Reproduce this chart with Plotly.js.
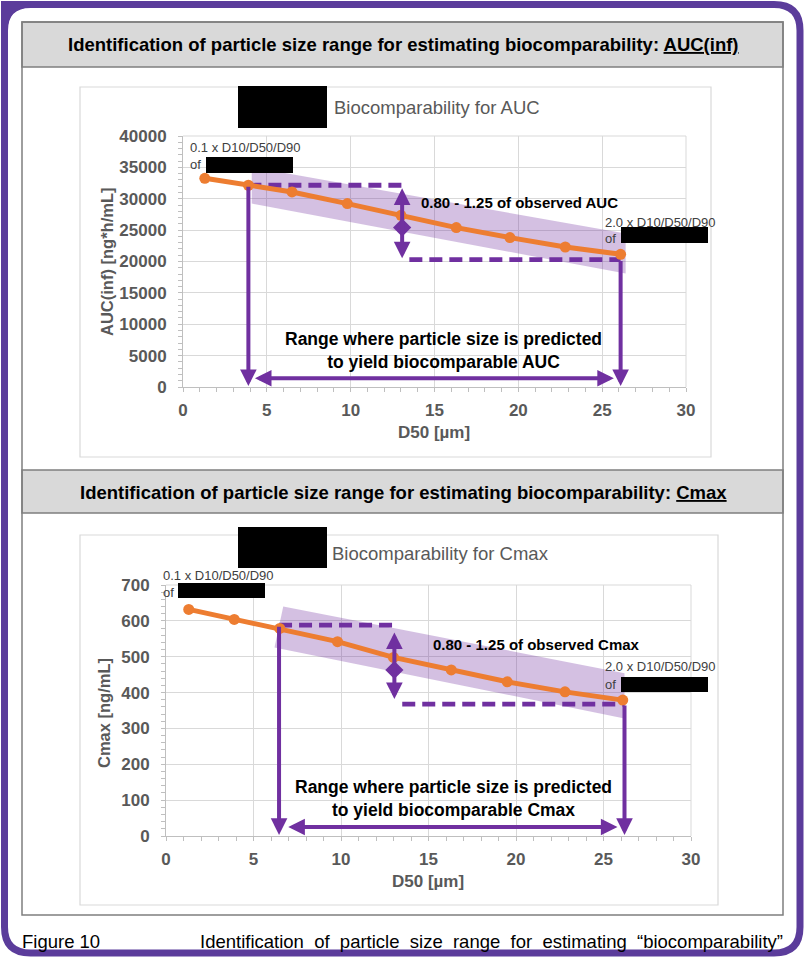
<!DOCTYPE html>
<html><head><meta charset="utf-8">
<script src="https://cdn.plot.ly/plotly-3.0.1.min.js"></script>
<style>html,body{margin:0;padding:0;background:#fff;}#chart{width:805px;height:958px;}</style>
</head><body><div id="chart"></div>
<script>
// ---------- data ----------
const d50 = [1.3, 3.9, 6.5, 9.8, 13.0, 16.3, 19.5, 22.8, 26.1];
const aucValues = [33260, 32150, 31080, 29230, 27360, 25400, 23810, 22310, 21150];
const cmaxValues = [632, 604, 579, 542, 498, 463, 430, 402, 379];

const aucBandX = [4.1, 26.4, 26.4, 4.1];
const aucBandY = [35060, 24450, 18070, 29230];
const cmaxBandX = [6.7, 26.2, 26.2, 6.2];
const cmaxBandY = [640, 454, 328, 526];

const aucLimits = [32150, 20300];      // 1.25 and 0.80 of observed AUC
const cmaxLimits = [588, 368];         // 1.25 and 0.80 of observed Cmax
const aucObserved = 25400;
const cmaxObserved = 463;
const aucRange = [3.9, 26.1];          // predicted biocomparable D50 range
const cmaxRange = [6.46, 26.2];
const ratioArrowX = [13.07, 13.05];
const aucRatioTips = [31900, 20500];
const cmaxRatioTips = [572, 382];
const aucRangeArrowY = 1400;
const cmaxRangeArrowY = 25;
const aucRangeArrow = [4.2, 25.7];
const cmaxRangeArrow = [6.9, 25.8];
const lowerDashStart = [13.5, 13.5];

const d50Ticks = [0, 5, 10, 15, 20, 25, 30];
const aucTicks = [0, 5000, 10000, 15000, 20000, 25000, 30000, 35000, 40000];
const cmaxTicks = [0, 100, 200, 300, 400, 500, 600, 700];

// ---------- styling ----------
const W = 805, H = 958;
const px = x => x / W, py = y => 1 - y / H;
const FONT = 'Liberation Sans, Arial, sans-serif';
const ORANGE = '#ed7d31', PURPLE = '#7030a0', GRID = '#d9d9d9', AX = '#bfbfbf', TXT = '#595959';

function axisX(domain, anchor) {
  return {
    domain: domain, anchor: anchor, range: [d50Ticks[0], d50Ticks[d50Ticks.length - 1]],
    tickmode: 'array', tickvals: d50Ticks, ticktext: d50Ticks.map(String),
    showgrid: true, gridcolor: GRID, gridwidth: 1, zeroline: false,
    showline: true, linecolor: AX, linewidth: 1,
    ticks: 'outside', ticklen: 4, tickcolor: AX, tickwidth: 1,
    minor: {tickmode: 'linear', tick0: 0, dtick: 1, ticks: 'outside', ticklen: 4, tickcolor: AX, showgrid: false},
    tickfont: {family: FONT, size: 17, color: TXT, weight: 'bold'},
    ticklabelstandoff: 4, fixedrange: true
  };
}
function axisY(domain, anchor, ticks, minorStep) {
  return {
    domain: domain, anchor: anchor, range: [ticks[0], ticks[ticks.length - 1]],
    tickmode: 'array', tickvals: ticks, ticktext: ticks.map(String),
    showgrid: true, gridcolor: GRID, gridwidth: 1, zeroline: false,
    showline: true, linecolor: AX, linewidth: 1,
    ticks: 'outside', ticklen: 4, tickcolor: AX, tickwidth: 1,
    minor: {tickmode: 'linear', tick0: 0, dtick: minorStep, ticks: 'outside', ticklen: 4, tickcolor: AX, showgrid: false},
    tickfont: {family: FONT, size: 17, color: TXT, weight: 'bold'},
    ticklabelstandoff: 8, fixedrange: true
  };
}

function panelTraces(xa, ya, vals, bandX, bandY, limits, range, arrowX, obs, dashStart) {
  return [
    {x: bandX, y: bandY, xaxis: xa, yaxis: ya, type: 'scatter', mode: 'lines', fill: 'toself',
     fillcolor: 'rgba(112,48,160,0.30)', line: {width: 0}, hoverinfo: 'skip', showlegend: false},
    {x: [range[0], arrowX], y: [limits[0], limits[0]], xaxis: xa, yaxis: ya, type: 'scatter', mode: 'lines',
     line: {color: PURPLE, width: 4.8, dash: '13px,7px'}, hoverinfo: 'skip', showlegend: false},
    {x: [dashStart, range[1]], y: [limits[1], limits[1]], xaxis: xa, yaxis: ya, type: 'scatter', mode: 'lines',
     line: {color: PURPLE, width: 4.8, dash: '13px,7px'}, hoverinfo: 'skip', showlegend: false},
    {x: d50, y: vals, xaxis: xa, yaxis: ya, type: 'scatter', mode: 'lines+markers',
     line: {color: ORANGE, width: 5}, marker: {color: ORANGE, size: 11}, showlegend: false},
    {x: [arrowX], y: [obs], xaxis: xa, yaxis: ya, type: 'scatter', mode: 'markers',
     marker: {symbol: 'diamond', size: 14, color: PURPLE}, hoverinfo: 'skip', showlegend: false}
  ];
}

const traces = [].concat(
  panelTraces('x', 'y', aucValues, aucBandX, aucBandY, aucLimits, aucRange, ratioArrowX[0], aucObserved, lowerDashStart[0]),
  panelTraces('x2', 'y2', cmaxValues, cmaxBandX, cmaxBandY, cmaxLimits, cmaxRange, ratioArrowX[1], cmaxObserved, lowerDashStart[1])
);

function arrow(xr, yr, x, y, ax, ay, both) {
  return {xref: xr, yref: yr, axref: xr, ayref: yr, x: x, y: y, ax: ax, ay: ay, text: '',
    showarrow: true, arrowhead: 2, arrowsize: 0.83, arrowwidth: 4, arrowcolor: PURPLE,
    startarrowhead: 2, startarrowsize: 0.83, arrowside: both ? 'end+start' : 'end', standoff: 0, startstandoff: 0};
}
function panelArrows(xr, yr, range, limits, arrowX, tips, hy, hspan, tipY) {
  return [
    arrow(xr, yr, range[0], tipY, range[0], limits[0], false),
    arrow(xr, yr, range[1], tipY, range[1], limits[1], false),
    arrow(xr, yr, hspan[1], hy, hspan[0], hy, true),
    arrow(xr, yr, arrowX, tips[1], arrowX, tips[0], true)
  ];
}

function T(text, x, y, o) {
  o = o || {};
  return {xref: 'paper', yref: 'paper', x: px(x), y: py(y), text: text, showarrow: false,
    xanchor: o.xa || 'left', yanchor: 'middle', align: o.align || 'left', borderpad: 0, borderwidth: 0,
    font: {family: FONT, size: o.size || 13, color: o.color || '#000', weight: o.weight || 'normal'},
    textangle: o.angle || 0};
}

const annotations = [].concat(
  panelArrows('x', 'y', aucRange, aucLimits, ratioArrowX[0], aucRatioTips, aucRangeArrowY, aucRangeArrow, aucTicks[0] + 150),
  panelArrows('x2', 'y2', cmaxRange, cmaxLimits, ratioArrowX[1], cmaxRatioTips, cmaxRangeArrowY, cmaxRangeArrow, cmaxTicks[0] + 3),
  [
    T('Identification of particle size range for estimating biocomparability: <u>AUC(inf)</u>', 403, 45, {xa: 'center', size: 18.5, weight: 'bold'}),
    T('Identification of particle size range for estimating biocomparability: <u>Cmax</u>', 403, 492, {xa: 'center', size: 18.5, weight: 'bold'}),
    T('Biocomparability for AUC', 334, 107, {size: 18.5, color: TXT}),
    T('Biocomparability for Cmax', 332, 553, {size: 18.5, color: TXT}),
    T('0.1 x D10/D50/D90', 190, 147, {size: 13, color: '#404040'}),
    T('of', 190, 165, {size: 13, color: '#404040'}),
    T('2.0 x D10/D50/D90', 605, 222, {size: 13, color: '#404040'}),
    T('of', 605, 238, {size: 13, color: '#404040'}),
    T('0.1 x D10/D50/D90', 163, 575, {size: 13, color: '#404040'}),
    T('of', 163, 592, {size: 13, color: '#404040'}),
    T('2.0 x D10/D50/D90', 605, 666, {size: 13, color: '#404040'}),
    T('of', 605, 684, {size: 13, color: '#404040'}),
    T('0.80 - 1.25 of observed AUC', 421, 203, {size: 15, weight: 'bold'}),
    T('0.80 - 1.25 of observed Cmax', 433, 644, {size: 15, weight: 'bold'}),
    T('Range where particle size is predicted<br>to yield biocomparable AUC', 443, 351, {xa: 'center', align: 'center', size: 17.5, weight: 'bold'}),
    T('Range where particle size is predicted<br>to yield biocomparable Cmax', 453, 798, {xa: 'center', align: 'center', size: 17.5, weight: 'bold'}),
    T('AUC(inf) [ng*h/mL]', 107, 262, {xa: 'center', size: 16.5, weight: 'bold', color: TXT, angle: -90}),
    T('Cmax [ng/mL]', 104, 713, {xa: 'center', size: 16.5, weight: 'bold', color: TXT, angle: -90}),
    T('D50 [µm]', 434, 433, {xa: 'center', size: 17, weight: 'bold', color: TXT}),
    T('D50 [µm]', 428, 881, {xa: 'center', size: 17, weight: 'bold', color: TXT}),
    T('Figure 10', 22, 941, {size: 18.5}),
    T('Identification\u00a0\u00a0of\u00a0\u00a0particle\u00a0\u00a0size\u00a0\u00a0range\u00a0\u00a0for\u00a0\u00a0estimating\u00a0\u00a0\u201cbiocomparability\u201d', 200, 941, {size: 18.5})
  ]
);

function rect(x0, y0, x1, y1, fill, line, lw, layer) {
  return {type: 'rect', xref: 'paper', yref: 'paper', x0: px(x0), x1: px(x1), y0: py(y0), y1: py(y1),
    fillcolor: fill, line: {color: line, width: lw}, layer: layer || 'below'};
}
function pathPx(parts) {
  return parts.map(p => typeof p === 'string' ? p : (px(p[0]) + ',' + py(p[1]))).join(' ');
}
const fx0 = 4.5, fy0 = 4.5, fx1 = 800, fy1 = 953, fr = 26;
const framePath = pathPx(['M', [fx0 + fr, fy0], 'L', [fx1 - fr, fy0], 'Q', [fx1, fy0], [fx1, fy0 + fr],
  'L', [fx1, fy1 - fr], 'Q', [fx1, fy1], [fx1 - fr, fy1], 'L', [fx0 + fr, fy1], 'Q', [fx0, fy1], [fx0, fy1 - fr],
  'L', [fx0, fy0 + fr], 'Q', [fx0, fy0], [fx0 + fr, fy0], 'Z']);
const cornerPath = pathPx(['M', [1, 1], 'L', [fx0 + fr, 1], 'L', [fx0 + fr, fy0 + 3], 'Q', [fx0 + 3, fy0 + 3], [fx0 + 3, fy0 + fr], 'L', [1, fy0 + fr], 'Z']);

const shapes = [
  rect(80, 87, 711, 457, '#ffffff', GRID, 1.2),
  rect(80, 535, 718, 905, '#ffffff', GRID, 1.2),
  rect(22, 22, 783, 67, '#d9d9d9', '#7f7f7f', 1.5),
  rect(22, 470, 783, 513, '#d9d9d9', '#7f7f7f', 1.5),
  rect(22, 22, 783, 915, 'rgba(0,0,0,0)', '#7f7f7f', 1.5),
  {type: 'path', xref: 'paper', yref: 'paper', path: framePath, line: {color: '#5b3c9b', width: 7}, fillcolor: 'rgba(0,0,0,0)', layer: 'below'},
  {type: 'path', xref: 'paper', yref: 'paper', path: cornerPath, line: {width: 0}, fillcolor: '#5b3c9b', layer: 'below'},
  // plot-area top/right edges
  {type: 'line', xref: 'x domain', yref: 'y domain', x0: 0, x1: 1, y0: 1, y1: 1, line: {color: GRID, width: 1}, layer: 'below'},
  {type: 'line', xref: 'x domain', yref: 'y domain', x0: 1, x1: 1, y0: 0, y1: 1, line: {color: GRID, width: 1}, layer: 'below'},
  {type: 'line', xref: 'x2 domain', yref: 'y2 domain', x0: 0, x1: 1, y0: 1, y1: 1, line: {color: GRID, width: 1}, layer: 'below'},
  {type: 'line', xref: 'x2 domain', yref: 'y2 domain', x0: 1, x1: 1, y0: 0, y1: 1, line: {color: GRID, width: 1}, layer: 'below'},
  // redaction boxes
  rect(238, 86, 327, 128, '#000', '#000', 0, 'above'),
  rect(238, 527, 327, 568, '#000', '#000', 0, 'above'),
  rect(206, 157, 293, 173, '#000', '#000', 0, 'above'),
  rect(621, 227, 708, 243, '#000', '#000', 0, 'above'),
  rect(178, 583, 265, 598, '#000', '#000', 0, 'above'),
  rect(621, 677, 708, 692, '#000', '#000', 0, 'above')
];

const layout = {
  width: W, height: H, margin: {l: 0, r: 0, t: 0, b: 0},
  paper_bgcolor: '#ffffff', plot_bgcolor: 'rgba(0,0,0,0)', showlegend: false,
  font: {family: FONT},
  xaxis: axisX([px(183), px(686)], 'y'),
  yaxis: axisY([py(387), py(136)], 'x', aucTicks, 1000),
  xaxis2: axisX([px(166), px(691)], 'y2'),
  yaxis2: axisY([py(836), py(585)], 'x2', cmaxTicks, 20),
  shapes: shapes, annotations: annotations
};

Plotly.newPlot('chart', traces, layout, {displayModeBar: false, staticPlot: true});
</script></body></html>
